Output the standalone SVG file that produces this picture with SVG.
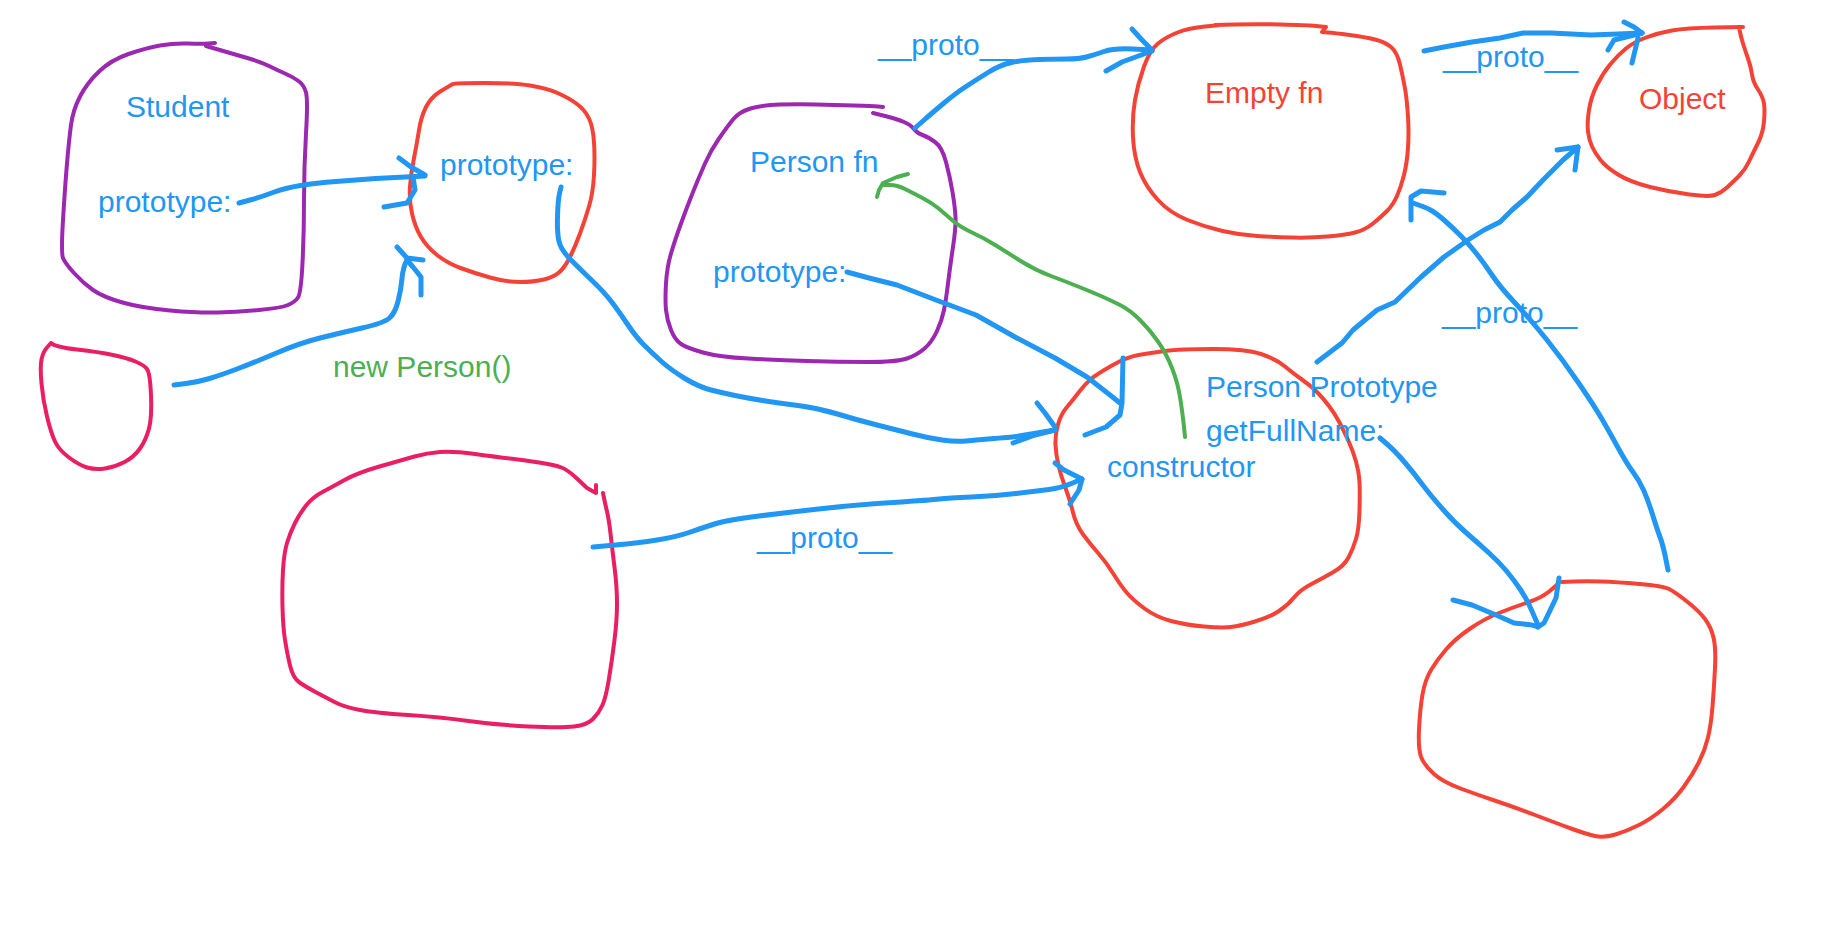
<svg xmlns="http://www.w3.org/2000/svg" width="1835" height="941" viewBox="0 0 1835 941">
<style>
.box{fill:none;stroke-width:4;stroke-linejoin:round;stroke-linecap:round}
.purple{stroke:#9C27B0}
.red{stroke:#F44336}
.pink{stroke:#E91E63}
.wire{fill:none;stroke:#2196F3;stroke-width:5;stroke-linejoin:round;stroke-linecap:round}
.gwire{fill:none;stroke:#4CAF50;stroke-width:4;stroke-linejoin:round;stroke-linecap:round}
text{font-family:"Liberation Sans",Arial,sans-serif;font-size:30px}
.tb{fill:#2196F3}
.tr{fill:#F44336}
.tg{fill:#4CAF50}
</style>
<rect width="1835" height="941" fill="#ffffff"/>
<g id="student">
<path class="box purple" d="M215,43 L208.5,43.5 Q202,44 188,43.5 Q174,43 160,45.5 Q146,48 128.5,54 Q111,60 99,71.5 Q87,83 80,96.5 Q73,110 71,125 Q69,140 67,163.5 Q65,187 63,220 Q61,253 63,258 Q65,263 74,273 Q83,283 93,290 Q103,297 122.5,302.5 Q142,308 170,310.5 Q198,313 217.5,312.5 Q237,312 259,310 Q281,308 288,305 Q295,302 298,297.5 Q301,293 302.5,263 Q304,233 304,200 Q304,167 306,133.5 Q308,100 306,92.5 Q304,85 298.5,81 Q293,77 285,73.5 Q277,70 269,66 Q261,62 249,58.5 Q237,55 221.5,50.5 L206,46"/>
<text class="tb" x="126" y="117">Student</text>
<text class="tb" x="98" y="212">prototype:</text>
</g>
<g id="student-prototype">
<path class="box red" d="M453,84 Q455,83 484.5,83 Q514,83 530,85.5 Q546,88 557.5,93 Q569,98 577,104 Q585,110 589,118.5 Q593,127 594,142 Q595,157 594,175 Q593,193 589,206.5 Q585,220 580,233.5 Q575,247 570,257 Q565,267 559.5,272 Q554,277 544,279.5 Q534,282 520,282 Q506,282 490,277.5 Q474,273 460.5,268 Q447,263 437,255 Q427,247 421,237 Q415,227 412,213.5 Q409,200 410,186.5 Q411,173 414,158 Q417,143 419,130 Q421,117 426,107 Q431,97 441,91 Q451,85 453,84 Z"/>
<text class="tb" x="440" y="175">prototype:</text>
</g>
<g id="student-instance">
<path class="box pink" d="M51,343 L47,347.5 Q43,352 41.5,359.5 Q40,367 41.5,383.5 Q43,400 47,416.5 Q51,433 55,441.5 Q59,450 69,457.5 Q79,465 87,467.5 Q95,470 105,468.5 Q115,467 124.5,462 Q134,457 140,448.5 Q146,440 149,428.5 Q152,417 151,395 Q150,373 147,369 Q144,365 135.5,361.5 Q127,358 113,355 Q99,352 77,349.5 Q55,347 51,343"/>
</g>
<g id="person-fn">
<path class="box purple" d="M883,107 L878,106.5 Q873,106 853.5,105.5 Q834,105 816,104.5 Q798,104 780,104.5 Q762,105 750.5,108.5 Q739,112 733,119.5 Q727,127 719,138.5 Q711,150 705,163.5 Q699,177 693,192 Q687,207 681,223.5 Q675,240 671,253.5 Q667,267 666,283.5 Q665,300 666,310 Q667,320 671,330 Q675,340 681,344 Q687,348 703,352.5 Q719,357 748.5,358.5 Q778,360 807.5,361 Q837,362 867,362 Q897,362 907,358.5 Q917,355 924.5,348.5 Q932,342 937,331 Q942,320 944,310 Q946,300 948,283.5 Q950,267 953,247 Q956,227 955.5,217 Q955,207 952.5,192 Q950,177 946,162 Q942,147 935,142 Q928,137 922.5,135 Q917,133 914,129 Q911,125 904,122 Q897,119 885,116 L873,113"/>
<text class="tb" x="750" y="172">Person fn</text>
<text class="tb" x="713" y="282">prototype:</text>
</g>
<g id="empty-fn">
<path class="box red" d="M1215,25 L1235,24.5 Q1255,24 1280.5,24.5 Q1306,25 1316,26 L1326,27 L1322,32 L1328,32.5 Q1334,33 1349.5,35 Q1365,37 1375,39.5 Q1385,42 1391,47 Q1397,52 1400,64.5 Q1403,77 1405,88.5 Q1407,100 1408,116.5 Q1409,133 1408,148 Q1407,163 1404,175 Q1401,187 1397,196 Q1393,205 1387,211 Q1381,217 1373,223.5 Q1365,230 1355,232.5 Q1345,235 1327.5,236.5 Q1310,238 1292,237.5 Q1274,237 1257,236 Q1240,235 1222.5,231 Q1205,227 1187.5,220 Q1170,213 1158,200 Q1146,187 1140,172 Q1134,157 1133,137 Q1132,117 1135,100 Q1138,83 1144,66.5 Q1150,50 1158,43.5 Q1166,37 1177.5,32.5 Q1189,28 1205,26.5 L1221,25"/>
<text class="tr" x="1205" y="103">Empty fn</text>
</g>
<g id="object">
<path class="box red" d="M1743,27 L1714.5,27.5 Q1686,28 1672,30.5 Q1658,33 1646,37.5 Q1634,42 1626,48.5 Q1618,55 1610.5,64 Q1603,73 1597,85 Q1591,97 1589,110 Q1587,123 1588,131.5 Q1589,140 1592,146.5 Q1595,153 1600.5,160 Q1606,167 1618,174.5 Q1630,182 1650,187 Q1670,192 1689.5,194.5 Q1709,197 1715,195 Q1721,193 1727,187.5 Q1733,182 1739,176 Q1745,170 1749,161.5 Q1753,153 1758,143 Q1763,133 1764,121.5 Q1765,110 1764,103.5 Q1763,97 1758,89.5 Q1753,82 1752,74.5 Q1751,67 1748,58.5 Q1745,50 1743,43.5 Q1741,37 1740,32 L1739,27"/>
<text class="tr" x="1639" y="109">Object</text>
</g>
<g id="person-prototype">
<path class="box red" d="M1261,354 Q1246,349 1213,349 Q1180,349 1165,351 Q1150,353 1138.5,355 Q1127,357 1112,365.5 Q1097,374 1091,379 Q1085,384 1079,392 Q1073,400 1067,407 Q1061,414 1058,424.5 Q1055,435 1055.5,445 Q1056,455 1058.5,465.5 Q1061,476 1065.5,488 Q1070,500 1073,512.5 Q1076,525 1083.5,535 Q1091,545 1098.5,553.5 Q1106,562 1113.5,574 Q1121,586 1127,593 Q1133,600 1144.5,608.5 Q1156,617 1171,621 Q1186,625 1204,626.5 Q1222,628 1231,627 Q1240,626 1255,621.5 Q1270,617 1279,611 Q1288,605 1294,597.5 Q1300,590 1311.5,584 Q1323,578 1333.5,572 Q1344,566 1348.5,557.5 Q1353,549 1356,539 Q1359,529 1359.5,510.5 Q1360,492 1359.5,482 Q1359,472 1356,461.5 Q1353,451 1348.5,441 Q1344,431 1339.5,422.5 Q1335,414 1329,406 Q1323,398 1317,392 Q1311,386 1302.5,380 Q1294,374 1285,366.5 Q1276,359 1261,354 Z"/>
<text class="tb" x="1206" y="397">Person Prototype</text>
<text class="tb" x="1206" y="441">getFullName:</text>
<text class="tb" x="1107" y="477">constructor</text>
</g>
<g id="person-instance">
<path class="box pink" d="M596,485 L596,493 L587,488 L577.5,479 Q568,470 561.5,467.5 Q555,465 539,462.5 Q523,460 510,458.5 Q497,457 475,454 Q453,451 440,452 Q427,453 414.5,456.5 Q402,460 379.5,466.5 Q357,473 344.5,480 Q332,487 322.5,492 Q313,497 306.5,505 Q300,513 295,523 Q290,533 287,543 Q284,553 283,570 Q282,587 282.5,607 Q283,627 285,640 Q287,653 290,665.5 Q293,678 299.5,682.5 Q306,687 315.5,692 Q325,697 334.5,702 Q344,707 360,710 Q376,713 408,715 Q440,717 468.5,721 Q497,725 529,726.5 Q561,728 574,726.5 Q587,725 593,719 Q599,713 602.5,705 Q606,697 609,678.5 Q612,660 614.5,640 Q617,620 617,603.5 Q617,587 614.5,567 Q612,547 610.5,533.5 Q609,520 607,511.5 Q605,503 604,498 L603,493"/>
</g>
<g id="function-object">
<path class="box red" d="M1559,582 L1557.5,584 Q1556,586 1548.5,592 Q1541,598 1527.5,602.5 Q1514,607 1499,613 Q1484,619 1469.5,629 Q1455,639 1446,649.5 Q1437,660 1431,670 Q1425,680 1422.5,694.5 Q1420,709 1419,729.5 Q1418,750 1421.5,758 Q1425,766 1434,774 Q1443,782 1460.5,788.5 Q1478,795 1496,801 Q1514,807 1535,815 Q1556,823 1571,828.5 Q1586,834 1595,836 Q1604,838 1615.5,834.5 Q1627,831 1639,825 Q1651,819 1663,809 Q1675,799 1684,786.5 Q1693,774 1699,762 Q1705,750 1708,737.5 Q1711,725 1712.5,706.5 Q1714,688 1715,668 Q1716,648 1713.5,637.5 Q1711,627 1705,619 Q1699,611 1687,601.5 Q1675,592 1669,589 Q1663,586 1639.5,584 Q1616,582 1601,581.5 Q1586,581 1574,581.5 L1562,582"/>
</g>
<g id="connectors">
<path class="wire" d="M239,203 L250,200 Q261,197 273,192.5 Q285,188 300.5,185.5 Q316,183 336,181.5 Q356,180 375.5,178.5 L425,176"/>
<polyline class="wire" points="399,158 411,167 425,175"/>
<polyline class="wire" points="384,207 407,203 415,190 413,177"/>
<path class="wire" d="M174,385 L186,383.5 Q198,382 209.5,378.5 Q221,375 237,369 Q253,363 276.5,353 Q300,343 320,338 Q340,333 362,328 Q384,323 389.5,318 Q395,313 398,301.5 Q401,290 402,278.5 Q403,267 407,260"/>
<polyline class="wire" points="397,247 407,258 423,260"/>
<polyline class="wire" points="421,295 421,277 413,267 407,260"/>
<text class="tg" x="333" y="377">new Person()</text>
<path class="wire" d="M561,187 L559.5,193.5 Q558,200 557.5,216.5 Q557,233 559,241.5 Q561,250 571,260 Q581,270 593,281.5 Q605,293 612.5,303 Q620,313 628,325 Q636,337 644,345 Q652,353 661.5,361.5 Q671,370 685,378.5 Q699,387 711,390 Q723,393 735,395.5 Q747,398 762.5,400.5 Q778,403 798,405.5 Q818,408 837.5,414 Q857,420 877,425 Q897,430 912.5,434 Q928,438 942,440 Q956,442 966,441 Q976,440 988,439 Q1000,438 1007.5,437.5 Q1015,437 1025,435 L1055,430"/>
<polyline class="wire" points="1037,403 1045,413 1055,427"/>
<polyline class="wire" points="1013,443 1035,435 1055,430"/>
<path class="wire" d="M915,128 L923.5,120.5 Q932,113 944,103 Q956,93 966,86.5 Q976,80 988,72.5 Q1000,65 1011.5,62.5 Q1023,60 1039,59.5 Q1055,59 1067,59 Q1079,59 1086.5,57 Q1094,55 1104,51.5 Q1114,48 1133,49 L1152,50"/>
<polyline class="wire" points="1132,29 1142,40 1152,50"/>
<polyline class="wire" points="1106,71 1122,62 1152,51"/>
<text class="tb" x="878" y="55">__proto__</text>
<path class="gwire" d="M1185,437 L1184,427 Q1183,417 1180.5,400 Q1178,383 1172,368 Q1166,353 1158,341.5 Q1150,330 1140,320 Q1130,310 1120,305 Q1110,300 1102,296.5 Q1094,293 1080.5,287.5 Q1067,282 1051,276 Q1035,270 1021.5,261.5 Q1008,253 996,245.5 Q984,238 972,232.5 Q960,227 952,220 Q944,213 938,208 Q932,203 922.5,198 Q913,193 905,189 Q897,185 890,185 L883,185"/>
<polyline class="gwire" points="908,174 897,177 883,183 879,190 877,197"/>
<polyline class="wire" points="847,272 869,278 897,285 936,300 976,315 1015,337 1055,358 1087,377 1110,395 1120,403"/>
<polyline class="wire" points="1123,358 1122,403 1120,415 1106,427 1085,435"/>
<polyline class="wire" points="1424,51 1444,47 1472,42 1500,38 1523,33 1551,33 1591,35 1618,34 1642,33"/>
<polyline class="wire" points="1624,22 1634,27 1642,33"/>
<polyline class="wire" points="1608,50 1614,40 1626,37 1642,33"/>
<polyline class="wire" points="1632,63 1638,38"/>
<text class="tb" x="1443" y="67">__proto__</text>
<polyline class="wire" points="1317,362 1342,343 1353,330 1377,310 1395,302 1421,277 1444,257 1468,240 1484,230 1500,222 1512,210 1527,197 1543,180 1563,160 1578,147"/>
<polyline class="wire" points="1557,150 1578,147 1575,170"/>
<path class="wire" d="M1668,570 L1665.5,557.5 Q1663,545 1660,537 Q1657,529 1652.5,514.5 Q1648,500 1643.5,490 Q1639,480 1633,472 Q1627,464 1618.5,448.5 Q1610,433 1602.5,420 Q1595,407 1579,383.5 Q1563,360 1547,340 Q1531,320 1515.5,303.5 Q1500,287 1492,275 Q1484,263 1476,253 Q1468,243 1460,235 Q1452,227 1444,220 Q1436,213 1430.5,210 Q1425,207 1413,203"/>
<polyline class="wire" points="1411,220 1411,197 1421,191 1444,193"/>
<text class="tb" x="1442" y="323">__proto__</text>
<path class="wire" d="M593,547 L615.5,545 Q638,543 657,540 Q676,537 689,532.5 Q702,528 714.5,524 Q727,520 759,516 Q791,512 823,508.5 Q855,505 893,502.5 Q931,500 939.5,499 Q948,498 971.5,497 Q995,496 1016,493.5 Q1037,491 1049,489.5 Q1061,488 1071.5,483.5 L1082,479"/>
<polyline class="wire" points="1055,463 1064,470 1082,479 1079,490 1070,504"/>
<text class="tb" x="757" y="548">__proto__</text>
<path class="wire" d="M1380,438 L1387.5,444.5 Q1395,451 1404,461.5 Q1413,472 1422,484 Q1431,496 1443,509.5 Q1455,523 1466.5,533 Q1478,543 1488.5,552.5 Q1499,562 1506.5,571 Q1514,580 1520,589 Q1526,598 1529,604.5 Q1532,611 1538,625"/>
<polyline class="wire" points="1559,578 1556,598 1544,623 1538,627"/>
<polyline class="wire" points="1453,600 1472,605 1496,615 1514,623 1532,625 1538,627"/>
</g>
</svg>
